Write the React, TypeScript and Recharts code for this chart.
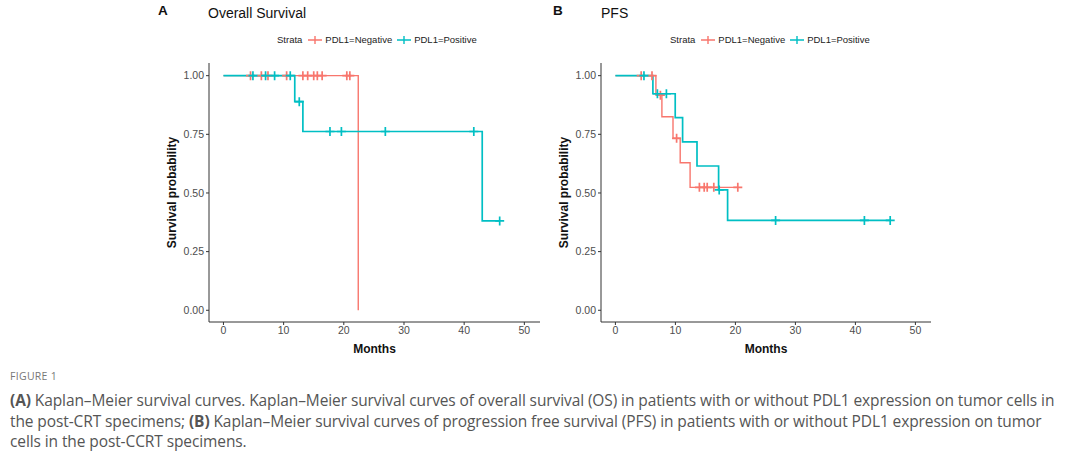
import React from "react"
import { ComposedChart, Line, Scatter, XAxis, YAxis, Label } from "recharts"

const RED = "#F8766D"
const CYAN = "#00BFC4"

// step curves: event times (months) and survival after each step
const osNegTimes = [0, 22.4]
const osNegSurv = [1, 0]
const osPosTimes = [0, 11.85, 13.2, 43.0, 45.9]
const osPosSurv = [1, 0.889, 0.762, 0.381, 0.381]

const pfsNegTimes = [0, 6.75, 7.75, 9.6, 10.8, 12.45, 20.4]
const pfsNegSurv = [1, 0.917, 0.825, 0.733, 0.629, 0.524, 0.524]
const pfsPosTimes = [0, 6.25, 9.97, 11.2, 13.6, 17.2, 18.7, 45.8]
const pfsPosSurv = [1, 0.923, 0.821, 0.718, 0.615, 0.513, 0.383, 0.383]

// censored observations
const osNegCensT = [4.5, 6.3, 7.4, 10.5, 13.2, 14.0, 15.0, 15.6, 16.4, 20.5, 21.0]
const osNegCensS = [1, 1, 1, 1, 1, 1, 1, 1, 1, 1, 1]
const osPosCensT = [4.9, 7.0, 8.5, 11.1, 12.6, 17.7, 19.6, 26.9, 41.6, 45.9]
const osPosCensS = [1, 1, 1, 1, 0.889, 0.762, 0.762, 0.762, 0.762, 0.381]

const pfsNegCensT = [4.3, 6.1, 7.5, 10.2, 14.0, 14.8, 15.3, 16.4, 20.4]
const pfsNegCensS = [1, 1, 0.917, 0.733, 0.524, 0.524, 0.524, 0.524, 0.524]
const pfsPosCensT = [4.76, 7.0, 8.5, 17.3, 26.7, 41.5, 45.8]
const pfsPosCensS = [1, 0.923, 0.923, 0.513, 0.383, 0.383, 0.383]

const xTicks = [0, 10, 20, 30, 40, 50]
const yTicks = [0, 0.25, 0.5, 0.75, 1]
const strata = ["PDL1=Negative", "PDL1=Positive"]

const zip = (t: number[], s: number[]) => t.map((v, i) => ({ t: v, s: s[i] }))

const Cross = (color: string) => (p: any) => (
  <path
    d={`M${p.cx - 4.5},${p.cy}h9M${p.cx},${p.cy - 4.5}v9`}
    stroke={color}
    strokeWidth={1.7}
    fill="none"
  />
)

const LegendBox = ({ left }: { left: number }) => (
  <div style={{ position: "absolute", left, top: 34, display: "flex", alignItems: "center", fontFamily: "Liberation Sans, Arial, sans-serif", fontSize: 9.5, color: "#222" }}>
    <span style={{ marginRight: 5 }}>Strata</span>
    {strata.map((name, i) => (
      <span key={name} style={{ display: "flex", alignItems: "center", marginRight: 4 }}>
        <svg width={16} height={10} style={{ marginRight: 2 }}>
          <path d="M1,5h14M8,1v8" stroke={i === 0 ? RED : CYAN} strokeWidth={1.4} />
        </svg>
        {name}
      </span>
    ))}
  </div>
)

const tickStyle = { fill: "#4D4D4D", fontSize: 10.5, fontFamily: "Liberation Sans, Arial, sans-serif" }
const titleStyle = { fill: "#111", fontSize: 12, fontWeight: 700, fontFamily: "Liberation Sans, Arial, sans-serif" }

function KMPanel(props: {
  left: number
  width: number
  negT: number[]; negS: number[]; posT: number[]; posS: number[]
  negCT: number[]; negCS: number[]; posCT: number[]; posCS: number[]
}) {
  return (
    <div style={{ position: "absolute", left: props.left, top: 0 }}>
      <ComposedChart width={props.width} height={365} margin={{ top: 63, right: 10, bottom: 0, left: 0 }}>
        <XAxis
          type="number"
          dataKey="t"
          domain={[-2.4, 52.6]}
          ticks={xTicks}
          allowDataOverflow
          height={43}
          tickSize={3}
          tickMargin={2}
          stroke="#333"
          tick={tickStyle}
        >
          <Label value="Months" position="center" dy={5} style={titleStyle} />
        </XAxis>
        <YAxis
          type="number"
          dataKey="s"
          domain={[-0.05, 1.054]}
          ticks={yTicks}
          allowDataOverflow
          width={59}
          tickSize={3}
          tickMargin={2}
          stroke="#333"
          tick={tickStyle}
          tickFormatter={(v: number) => v.toFixed(2)}
        >
          <Label value="Survival probability" angle={-90} position="center" dx={-8} style={titleStyle} />
        </YAxis>
        <Line data={zip(props.negT, props.negS)} dataKey="s" type="stepAfter" stroke={RED} strokeWidth={1.4} dot={false} activeDot={false} isAnimationActive={false} />
        <Line data={zip(props.posT, props.posS)} dataKey="s" type="stepAfter" stroke={CYAN} strokeWidth={1.7} dot={false} activeDot={false} isAnimationActive={false} />
        <Scatter data={zip(props.negCT, props.negCS)} dataKey="s" shape={Cross(RED)} isAnimationActive={false} />
        <Scatter data={zip(props.posCT, props.posCS)} dataKey="s" shape={Cross(CYAN)} isAnimationActive={false} />
      </ComposedChart>
    </div>
  )
}

const heading = { position: "absolute" as const, fontFamily: "Liberation Sans, Arial, sans-serif", color: "#111" }
const caption = { position: "absolute" as const, left: 10, fontFamily: "Open Sans, sans-serif", fontSize: 15.5, color: "#555", whiteSpace: "nowrap" as const, letterSpacing: -0.1 }

export default function App() {
  return (
    <div style={{ position: "absolute", left: 0, top: 0, width: 1080, height: 456, background: "#fff", overflow: "hidden" }}>
      <div style={{ ...heading, left: 158, top: 3, fontSize: 13.5, fontWeight: 700 }}>A</div>
      <div style={{ ...heading, left: 208, top: 5, fontSize: 14 }}>Overall Survival</div>
      <div style={{ ...heading, left: 553, top: 3, fontSize: 13.5, fontWeight: 700 }}>B</div>
      <div style={{ ...heading, left: 601, top: 5, fontSize: 14 }}>PFS</div>

      <LegendBox left={277} />
      <LegendBox left={670} />

      <KMPanel
        left={150} width={400}
        negT={osNegTimes} negS={osNegSurv} posT={osPosTimes} posS={osPosSurv}
        negCT={osNegCensT} negCS={osNegCensS} posCT={osPosCensT} posCS={osPosCensS}
      />
      <KMPanel
        left={542} width={399}
        negT={pfsNegTimes} negS={pfsNegSurv} posT={pfsPosTimes} posS={pfsPosSurv}
        negCT={pfsNegCensT} negCS={pfsNegCensS} posCT={pfsPosCensT} posCS={pfsPosCensS}
      />

      <div style={{ ...caption, top: 369, fontSize: 10.5, color: "#777", letterSpacing: 0.3 }}>FIGURE 1</div>
      <div style={{ ...caption, top: 389 }}>
        <b>(A)</b> Kaplan–Meier survival curves. Kaplan–Meier survival curves of overall survival (OS) in patients with or without PDL1 expression on tumor cells in
      </div>
      <div style={{ ...caption, top: 410 }}>
        the post-CRT specimens; <b>(B)</b> Kaplan–Meier survival curves of progression free survival (PFS) in patients with or without PDL1 expression on tumor
      </div>
      <div style={{ ...caption, top: 430 }}>cells in the post-CCRT specimens.</div>
    </div>
  )
}
